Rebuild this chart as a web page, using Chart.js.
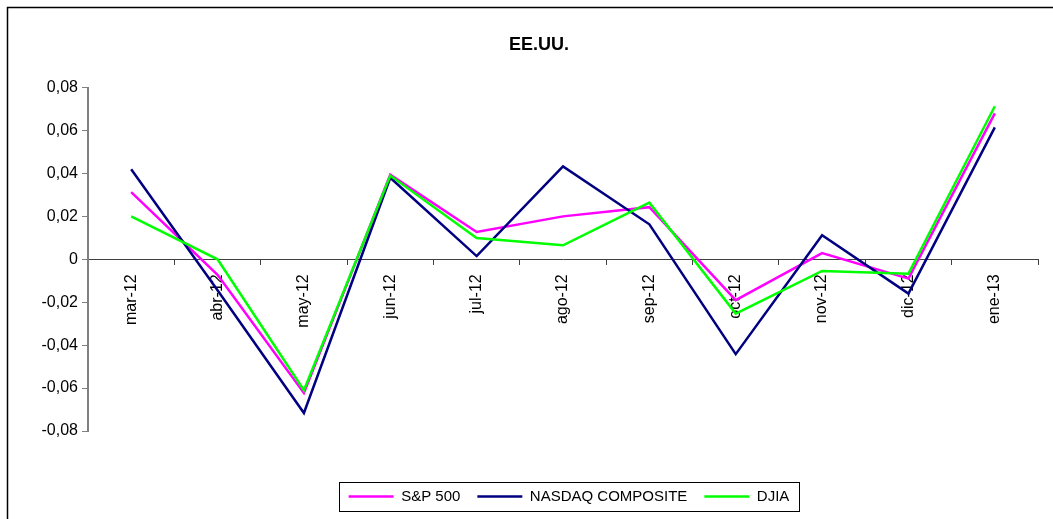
<!DOCTYPE html>
<html>
<head>
<meta charset="utf-8">
<script src="https://cdn.jsdelivr.net/npm/chart.js@4"></script>
<style>
  html, body { margin: 0; padding: 0; background: #fff; }
  canvas { display: block; }
</style>
</head>
<body>
<canvas id="chart" width="1053" height="519"></canvas>
<script>
const months = ['mar-12', 'abr-12', 'may-12', 'jun-12', 'jul-12', 'ago-12', 'sep-12', 'oct-12', 'nov-12', 'dic-12', 'ene-13'];
const sp500 = [0.0313, -0.0072, -0.0623, 0.0394, 0.0127, 0.0200, 0.0243, -0.0190, 0.0029, -0.0090, 0.0680];
const nasdaq = [0.0420, -0.0144, -0.0716, 0.0380, 0.0015, 0.0433, 0.0163, -0.0442, 0.0112, -0.0160, 0.0615];
const djia = [0.0200, 0.0000, -0.0610, 0.0390, 0.0099, 0.0065, 0.0264, -0.0253, -0.0054, -0.0067, 0.0713];

const fmt = v => Math.abs(v) < 1e-9 ? '0' : v.toFixed(2).replace('.', ',');
const LEGEND_SHIFT = 6;

// white background + frame lines (top and left, the rest falls outside the picture)
const framePlugin = {
    id: 'frame',
    beforeDraw(chart) {
        const ctx = chart.ctx;
        ctx.save();
        ctx.fillStyle = '#fff';
        ctx.fillRect(0, 0, chart.width, chart.height);
        ctx.strokeStyle = '#000';
        ctx.lineWidth = 1.5;
        ctx.beginPath();
        ctx.moveTo(7.5, chart.height);
        ctx.lineTo(7.5, 7.5);
        ctx.lineTo(chart.width, 7.5);
        ctx.stroke();
        ctx.restore();
    }
};

// nudge the legend a little to the right and draw a box round it
const legendBox = {
    id: 'legendBox',
    afterLayout(chart) {
        const lg = chart.legend;
        lg.left += LEGEND_SHIFT;
        lg.right += LEGEND_SHIFT;
        (lg.legendHitBoxes || []).forEach(h => { h.left += LEGEND_SHIFT; });
    },
    afterDraw(chart) {
        const boxes = chart.legend.legendHitBoxes;
        if (!boxes || !boxes.length) return;
        let l = Infinity, r = -Infinity, t = Infinity, b = -Infinity;
        boxes.forEach(h => {
            l = Math.min(l, h.left); r = Math.max(r, h.left + h.width);
            t = Math.min(t, h.top); b = Math.max(b, h.top + h.height);
        });
        const ctx = chart.ctx;
        ctx.save();
        ctx.strokeStyle = '#000';
        ctx.lineWidth = 1;
        ctx.strokeRect(Math.round(l - 10) + 0.5, Math.round(t - 7) + 0.5, Math.round(r - l + 19), Math.round(b - t + 14));
        ctx.restore();
    }
};

const ctx = document.getElementById('chart');
const myLineChart = new Chart(ctx, {
    type: 'line',
    data: {
        labels: months,
        datasets: [
            { label: 'S&P 500', data: sp500, borderColor: '#FF00FF', backgroundColor: '#FF00FF', borderWidth: 2.5, order: 3 },
            { label: 'NASDAQ COMPOSITE', data: nasdaq, borderColor: '#000080', backgroundColor: '#000080', borderWidth: 2.5, order: 2 },
            { label: 'DJIA', data: djia, borderColor: '#00FF00', backgroundColor: '#00FF00', borderWidth: 2.5, order: 1 }
        ]
    },
    plugins: [framePlugin, legendBox],
    options: {
        responsive: false,
        animation: false,
        devicePixelRatio: 1,
        layout: { padding: { left: 40, right: 15, top: 20, bottom: 5 } },
        elements: {
            line: { tension: 0 },
            point: { radius: 0, hoverRadius: 0 }
        },
        plugins: {
            title: {
                display: true,
                text: 'EE.UU.',
                color: '#000',
                font: { family: 'Liberation Sans, Arial', size: 18, weight: 'bold' },
                padding: { top: 14, bottom: 32 }
            },
            legend: {
                position: 'bottom',
                fullSize: false,
                labels: {
                    color: '#000',
                    font: { family: 'Liberation Sans, Arial', size: 15 },
                    usePointStyle: true,
                    pointStyle: 'line',
                    pointStyleWidth: 45,
                    padding: 17,
                    sort: (a, b) => a.datasetIndex - b.datasetIndex
                }
            },
            tooltip: { enabled: false }
        },
        scales: {
            x: {
                position: { y: 0 },
                offset: true,
                grid: { offset: true, drawOnChartArea: false, tickLength: 5, color: '#404040' },
                border: { color: '#404040', width: 1 },
                ticks: {
                    autoSkip: false,
                    minRotation: 90,
                    maxRotation: 90,
                    padding: 10,
                    color: '#000',
                    font: { family: 'Liberation Sans, Arial', size: 16 }
                }
            },
            // empty band that keeps the plot clear of the legend
            gap: {
                type: 'category',
                position: 'bottom',
                afterFit(scale) { scale.height = 41; },
                grid: { display: false },
                border: { display: false },
                ticks: { display: false }
            },
            y: {
                min: -0.08,
                max: 0.08,
                afterFit(scale) { scale.width = 48; },
                grid: { drawOnChartArea: false, tickLength: 6, color: '#808080' },
                border: { color: '#808080', width: 2 },
                ticks: {
                    stepSize: 0.02,
                    padding: 4,
                    color: '#000',
                    font: { family: 'Liberation Sans, Arial', size: 16 },
                    callback: v => fmt(v)
                }
            }
        }
    }
});
</script>
</body>
</html>
